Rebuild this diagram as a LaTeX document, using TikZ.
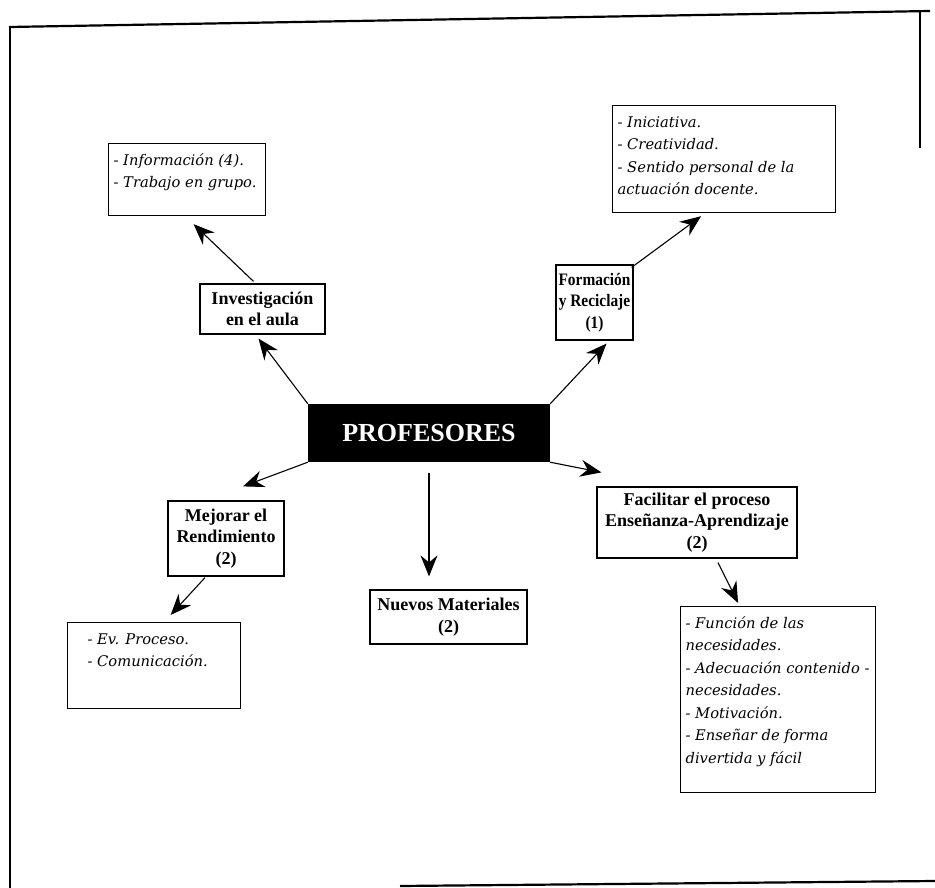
\documentclass[tikz,border=0pt]{standalone}
\usepackage{fontspec}
\setmainfont{DejaVu Serif}
\newfontfamily\titlefont{Liberation Serif}
\newfontfamily\narrowtitlefont{Liberation Serif}[FakeStretch=0.88]
\usetikzlibrary{arrows.meta,calc}

% top-aligned list of lines inside a fixed-size box
\newcommand\notetext[3]{\parbox[t][#2][t]{#1}{\raggedright\strut #3}}

\tikzset{
  frameline/.style={line width=2.2pt},
  notebox/.style={draw, line width=1.2pt, anchor=north west,
    inner xsep=5pt, inner ysep=6pt,
    font=\fontsize{14.7}{22.5}\selectfont\itshape},
  topicbox/.style={draw, line width=1.2pt, align=center, inner sep=0pt,
    font=\titlefont\fontsize{18}{21.5}\selectfont\bfseries},
  centralbox/.style={fill=black, text=white, inner sep=0pt,
    font=\titlefont\fontsize{26}{30}\selectfont\bfseries},
  link/.style={line width=1.1pt,
    -{Stealth[length=21pt,width=17pt,inset=7pt]}}
}

\begin{document}
\begin{tikzpicture}[x=1pt,y=-1pt]
\useasboundingbox (0,0) rectangle (935,888);

% page frame
\draw[frameline] (10,888) -- (10,27);
\draw[frameline] (9,27) -- (930,11);
\draw[frameline] (920,11) -- (920,148);
\draw[frameline] (400,886) -- (935,881);

% central node
\node[centralbox, minimum width=242pt, minimum height=58pt] (prof) at (429,433) {PROFESORES};

% topic boxes
\node[topicbox, minimum width=125pt, minimum height=50pt] (invest) at (262.5,309)
  {Investigación\\en el aula};
\node[topicbox, minimum width=77pt, minimum height=75pt,
      font=\narrowtitlefont\fontsize{17.5}{21.5}\selectfont\bfseries] (form) at (594.5,302.5)
  {Formación\\y Reciclaje\\(1)};
\node[topicbox, minimum width=116pt, minimum height=75pt] (mejor) at (226,538.5)
  {Mejorar el\\Rendimiento\\(2)};
\node[topicbox, minimum width=157pt, minimum height=54pt] (nuevos) at (448.5,617)
  {Nuevos Materiales\\(2)};
\node[topicbox, minimum width=200pt, minimum height=71pt] (facil) at (697,522.5)
  {Facilitar el proceso\\Enseñanza-Aprendizaje\\(2)};

% note boxes
\node[notebox] (info) at (108,143)
  {\notetext{147pt}{60pt}{\mbox{- Información (4).}\\\mbox{- Trabajo en grupo.}}};
\node[notebox] (inic) at (612,105)
  {\notetext{213pt}{95pt}{\mbox{- Iniciativa.}\\\mbox{- Creatividad.}\\
   \mbox{- Sentido personal de la}\\\mbox{actuación docente.}}};
\node[notebox] (ev) at (67,622)
  {\notetext{163pt}{74pt}{\leftskip=15pt \mbox{- Ev. Proceso.}\\\mbox{- Comunicación.}}};
\node[notebox] (func) at (680,606)
  {\notetext{185pt}{174pt}{\mbox{- Función de las}\\\mbox{necesidades.}\\
   \mbox{- Adecuación contenido -}\\\mbox{necesidades.}\\\mbox{- Motivación.}\\
   \mbox{- Enseñar de forma}\\\mbox{divertida y fácil}}};

% connectors
\draw[link] (prof.north west) -- ($(invest.south)+(-4,4)$);
\draw[link] (prof.north east) -- ($(form.south)+(12,3)$);
\draw[link] ($(invest.north)+(-9,-2)$) -- ($(info.south)+(6.5,8)$);
\draw[link] ($(form.north east)+(-2,3)$) -- ($(inic.south)+(-23,3)$);
\draw[link] (prof.south west) -- ($(mejor.north)+(17,-14)$);
\draw[link] ($(mejor.south)+(-21,1)$) -- ($(ev.north)+(16.5,-7)$);
\draw[link] ($(prof.south)+(0,11)$) -- ($(nuevos.north)+(-19.5,-13)$);
\draw[link] (prof.south east) -- ($(facil.north west)+(5,-14)$);
\draw[link] ($(facil.south)+(21,4)$) -- ($(func.north)+(-40,-3)$);
\end{tikzpicture}
\end{document}
